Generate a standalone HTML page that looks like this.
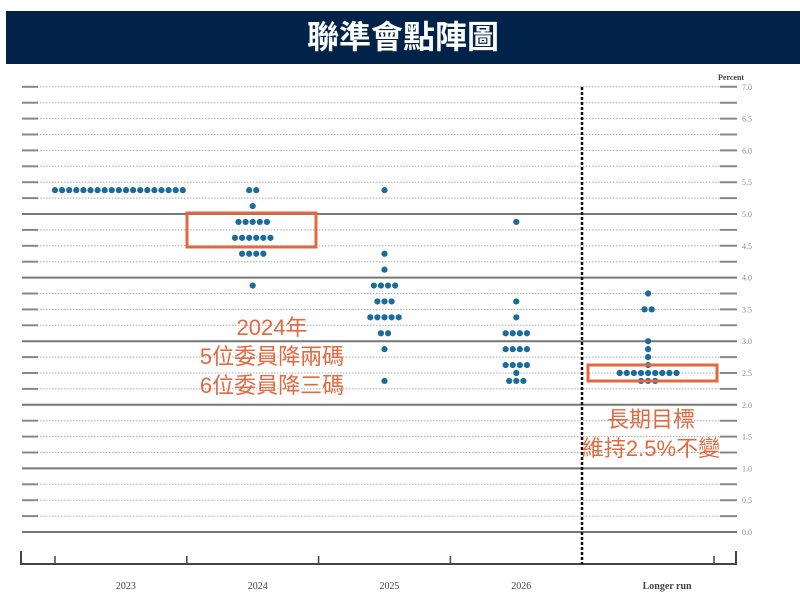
<!DOCTYPE html>
<html><head><meta charset="utf-8"><style>
body{margin:0;width:800px;height:608px;background:#fff;overflow:hidden;font-family:"Liberation Sans","Noto Sans CJK TC",sans-serif}
#title{position:absolute;left:6px;top:11px;width:794px;height:53px;background:#012249;color:#fff;font-size:32px;font-weight:bold;text-align:center;line-height:53px;font-family:"Liberation Sans","Noto Sans CJK TC",sans-serif}
svg{position:absolute;left:0;top:0}
</style></head><body>
<div id="title">聯準會點陣圖</div>
<svg id="chart" width="800" height="608"></svg>
<script>
const yTicks=["0.0","0.5","1.0","1.5","2.0","2.5","3.0","3.5","4.0","4.5","5.0","5.5","6.0","6.5","7.0"];
const categories=["2023","2024","2025","2026","Longer run"];
const rates2023=[5.375];
const counts2023=[19];
const rates2024=[5.375,5.125,4.875,4.625,4.375,3.875];
const counts2024=[2,1,5,6,4,1];
const rates2025=[5.375,4.375,4.125,3.875,3.625,3.375,3.125,2.875,2.375];
const counts2025=[1,1,1,4,3,5,2,1,1];
const rates2026=[4.875,3.625,3.375,3.125,2.875,2.625,2.5,2.375];
const counts2026=[1,1,1,4,4,4,1,3];
const ratesLR=[3.75,3.5,3.0,2.875,2.75,2.625,2.5,2.375];
const countsLR=[1,2,1,1,1,1,9,3];
const seriesRates=[rates2023,rates2024,rates2025,rates2026,ratesLR];
const seriesCounts=[counts2023,counts2024,counts2025,counts2026,countsLR];

const NS="http://www.w3.org/2000/svg";
const svg=document.getElementById('chart');
function y(v){return 532-v*63.6;}
const x0=55,cw=131.8;
function xc(i){return x0+cw*(i+0.5);}
function mk(t,a,p){const e=document.createElementNS(NS,t);for(const k in a)e.setAttribute(k,a[k]);(p||svg).appendChild(e);return e;}
for(let k=0;k<=28;k++){
  const v=k*0.25;const yy=y(v);
  const solid=(k%4===0 && v>=0 && v<=5);
  const g=mk('line',{x1:22,x2:737,y1:yy,y2:yy,stroke:solid?'#777':'#aaa','stroke-width':solid?2:1,'stroke-dasharray':solid?'':'1.5,1.5'});
  
  
  if(!solid){
    const l=mk('line',{x1:22,x2:38,y1:yy,y2:yy,stroke:'#888','stroke-width':2});
    
    
    const r=mk('line',{x1:720,x2:737,y1:yy,y2:yy,stroke:'#888','stroke-width':2});
    
    
  }
}
yTicks.forEach((t,i)=>{
  const v=parseFloat(t);
  const e=mk('text',{x:742,y:y(v)+3,'font-size':8,fill:'#888','font-family':'Liberation Serif, serif'});
  e.textContent=t;
  
  
});
const pc=mk('text',{x:718,y:80,'font-size':8,'font-weight':'bold',fill:'#444','font-family':'Liberation Serif, serif'});
pc.textContent='Percent';


const ax=mk('path',{d:'M21,551 V564 H736 V551',fill:'none',stroke:'#444','stroke-width':2});


for(let i=0;i<=5;i++){
  if(i===4)continue;
  const xx=x0+cw*i;
  const t=mk('line',{x1:xx,x2:xx,y1:556,y2:564,stroke:'#444','stroke-width':1.5});
  
  
}
const dv=mk('line',{x1:582,x2:582,y1:87,y2:564,stroke:'#111','stroke-width':2.5,'stroke-dasharray':'3,2'});


categories.forEach((c,i)=>{
  const e=mk('text',{x:xc(i)+(i===4?19:5),y:589,'font-size':10,'text-anchor':'middle',fill:'#444','font-weight':i===4?'bold':'normal','font-family':'Liberation Serif, serif'});
  e.textContent=c;
  
  
});
const sp=7.1;
seriesRates.forEach((rs,i)=>{
  const cx=xc(i)-(i===0?2:0);
  rs.forEach((r,j)=>{
    const n=seriesCounts[i][j];
    for(let k=0;k<n;k++){
      const d=mk('circle',{cx:cx+(k-(n-1)/2)*sp,cy:y(r),r:3.1,fill:'#1b6c9c'});
      
      
    }
  });
});
const b1=mk('rect',{x:187,y:213,width:129,height:34,fill:'none',stroke:'#e2693f','stroke-width':3});


const b2=mk('rect',{x:588,y:365,width:129,height:16,fill:'none',stroke:'#e2693f','stroke-width':3});


const notes=[["2024年",272,335],["5位委員降兩碼",272,364],["6位委員降三碼",272,393],["長期目標",651,427],["維持2.5%不變",651,456]];
notes.forEach(n=>{
  const e=mk('text',{x:n[1],y:n[2],'font-size':22,'text-anchor':'middle',fill:'#e2693f','font-family':'Liberation Sans, Noto Sans CJK TC, sans-serif'});
  e.textContent=n[0];
  
  
});
</script>
</body></html>
